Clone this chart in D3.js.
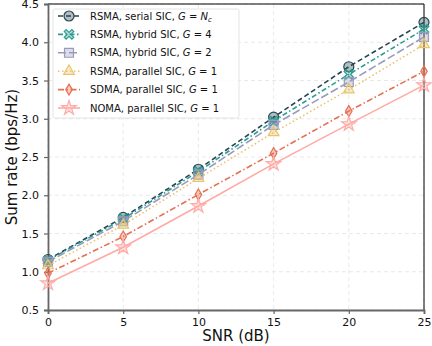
<!DOCTYPE html>
<html>
<head>
<meta charset="utf-8">
<script src="https://cdn.jsdelivr.net/npm/d3@7"></script>
<style>
  body { margin: 0; background: #fff; }
  svg { font-family: "DejaVu Sans", sans-serif; }
</style>
</head>
<body>
<div id="chart"></div>
<script>
var snr = [0, 5, 10, 15, 20, 25];
var serialG = [1.16, 1.71, 2.34, 3.02, 3.68, 4.26];
var hybrid4 = [1.15, 1.69, 2.31, 2.97, 3.58, 4.17];
var hybrid2 = [1.13, 1.66, 2.27, 2.92, 3.48, 4.07];
var parallelR = [1.08, 1.61, 2.22, 2.82, 3.38, 3.97];
var sdma = [0.98, 1.46, 2.01, 2.55, 3.10, 3.62];
var noma = [0.85, 1.32, 1.86, 2.41, 2.93, 3.44];
var xTicks = [0, 5, 10, 15, 20, 25];
var yTicks = [0.5, 1.0, 1.5, 2.0, 2.5, 3.0, 3.5, 4.0, 4.5];

var series = [
  { name: 'RSMA, serial SIC, ', g: 'Nc', vals: serialG, color: '#264653', dash: '5,3', marker: 'circle' },
  { name: 'RSMA, hybrid SIC, ', g: '4', vals: hybrid4, color: '#2a9d8f', dash: '5,2.5,1.5,2.5', marker: 'x' },
  { name: 'RSMA, hybrid SIC, ', g: '2', vals: hybrid2, color: '#9a9abf', dash: '8,3', marker: 'square' },
  { name: 'RSMA, parallel SIC, ', g: '1', vals: parallelR, color: '#e9c46a', dash: '1.5,2.5', marker: 'triangle' },
  { name: 'SDMA, parallel SIC, ', g: '1', vals: sdma, color: '#e76f51', dash: '6,2.5,1.5,2.5', marker: 'diamond' },
  { name: 'NOMA, parallel SIC, ', g: '1', vals: noma, color: '#ffaaa5', dash: null, marker: 'star' }
];

var W = 432, H = 346;
var margin = { top: 4, right: 8, bottom: 36, left: 48 };
var iw = W - margin.left - margin.right, ih = H - margin.top - margin.bottom;

var svg = d3.select('#chart').append('svg').attr('width', W).attr('height', H);
var g = svg.append('g').attr('transform', 'translate(' + margin.left + ',' + margin.top + ')');

var x = d3.scaleLinear().domain([0, 25]).range([0, iw]);
var y = d3.scaleLinear().domain([0.5, 4.5]).range([ih, 0]);

// grid
g.append('g').selectAll('line').data(yTicks).join('line')
  .attr('x1', 0).attr('x2', iw).attr('y1', d => y(d)).attr('y2', d => y(d))
  .attr('stroke', '#e3e3e3').attr('stroke-dasharray', '4,3').attr('stroke-width', 0.8);
g.append('g').selectAll('line').data(xTicks).join('line')
  .attr('y1', 0).attr('y2', ih).attr('x1', d => x(d)).attr('x2', d => x(d))
  .attr('stroke', '#e3e3e3').attr('stroke-dasharray', '4,3').attr('stroke-width', 0.8);

// frame top/right
g.append('line').attr('x1', 0).attr('x2', iw).attr('y1', 0).attr('y2', 0).attr('stroke', '#000').attr('stroke-width', 1);
g.append('line').attr('x1', iw).attr('x2', iw).attr('y1', 0).attr('y2', ih).attr('stroke', '#000').attr('stroke-width', 1);

// axes
g.append('g').attr('transform', 'translate(0,' + ih + ')')
  .call(d3.axisBottom(x).tickValues(xTicks).tickSize(4).tickPadding(4))
  .call(s => s.select('.domain').attr('stroke', '#666').attr('stroke-width', 1.8))
  .call(s => s.selectAll('.tick line').attr('stroke', '#666').attr('stroke-width', 1.2))
  .call(s => s.selectAll('.tick text').attr('fill', '#111').attr('font-size', '11px').attr('font-family', 'DejaVu Sans'));
g.append('g')
  .call(d3.axisLeft(y).tickValues(yTicks).tickFormat(d3.format('.1f')).tickSize(4).tickPadding(5))
  .call(s => s.select('.domain').attr('stroke', '#666').attr('stroke-width', 1.8))
  .call(s => s.selectAll('.tick line').attr('stroke', '#666').attr('stroke-width', 1.2))
  .call(s => s.selectAll('.tick text').attr('fill', '#111').attr('font-size', '11px').attr('font-family', 'DejaVu Sans'));

svg.append('text').attr('x', margin.left + iw / 2).attr('y', 341).attr('text-anchor', 'middle')
  .attr('font-size', '15px').attr('fill', '#111').text('SNR (dB)');
svg.append('text').attr('transform', 'rotate(-90)').attr('x', -(margin.top + ih / 2)).attr('y', 17)
  .attr('text-anchor', 'middle').attr('font-size', '15px').attr('fill', '#111').text('Sum rate (bps/Hz)');

function markerPath(type, r) {
  if (type === 'circle') return d3.symbol(d3.symbolCircle, Math.PI * r * r)();
  if (type === 'square') return d3.symbol(d3.symbolSquare, 4 * r * r * 0.8)();
  if (type === 'triangle') return d3.symbol(d3.symbolTriangle, 2.0 * r * r)();
  if (type === 'diamond') {
    var a = r * 0.65, b = r * 1.1;
    return 'M0,' + (-b) + 'L' + a + ',0L0,' + b + 'L' + (-a) + ',0Z';
  }
  if (type === 'star') return d3.symbol(d3.symbolStar, 2.6 * r * r)();
  if (type === 'x') {
    var s = r * 0.95, t = r * 0.38;
    var pts = [[-s + t, -s], [0, -t], [s - t, -s], [s, -s + t], [t, 0], [s, s - t], [s - t, s], [0, t], [-s + t, s], [-s, s - t], [-t, 0], [-s, -s + t]];
    return 'M' + pts.map(q => q.join(',')).join('L') + 'Z';
  }
}

var line = d3.line().x((d, i) => x(snr[i])).y(d => y(d));

series.forEach(function(s) {
  g.append('path').datum(s.vals).attr('d', line).attr('fill', 'none')
    .attr('stroke', s.color).attr('stroke-width', 1.6)
    .attr('stroke-dasharray', s.dash);
  g.append('g').selectAll('path').data(s.vals).join('path')
    .attr('transform', (d, i) => 'translate(' + x(snr[i]) + ',' + y(d) + ')')
    .attr('d', markerPath(s.marker, 5))
    .attr('fill', s.color).attr('fill-opacity', 0.35)
    .attr('stroke', s.color).attr('stroke-width', 1.2);
});

// legend
var lg = svg.append('g').attr('transform', 'translate(53,9)');
lg.append('rect').attr('width', 186).attr('height', 109).attr('rx', 2)
  .attr('fill', '#fff').attr('fill-opacity', 0.85).attr('stroke', '#ddd').attr('stroke-width', 0.8);
series.forEach(function(s, i) {
  var yy = 7 + i * 18.4;
  lg.append('line').attr('x1', 5).attr('x2', 27).attr('y1', yy).attr('y2', yy)
    .attr('stroke', s.color).attr('stroke-width', 1.6).attr('stroke-dasharray', s.dash);
  lg.append('path').attr('transform', 'translate(16,' + yy + ')').attr('d', markerPath(s.marker, 5))
    .attr('fill', s.color).attr('fill-opacity', 0.35).attr('stroke', s.color).attr('stroke-width', 1.2);
  var t = lg.append('text').attr('x', 37).attr('y', yy + 3.6).attr('font-size', '10px').attr('fill', '#111');
  t.append('tspan').text(s.name);
  t.append('tspan').attr('font-style', 'italic').text('G');
  t.append('tspan').text(' = ');
  if (s.g === 'Nc') {
    t.append('tspan').attr('font-style', 'italic').text('N');
    t.append('tspan').attr('font-style', 'italic').attr('font-size', '7px').attr('dy', 2.5).text('c');
  } else {
    t.append('tspan').text(s.g);
  }
});
</script>
</body>
</html>
